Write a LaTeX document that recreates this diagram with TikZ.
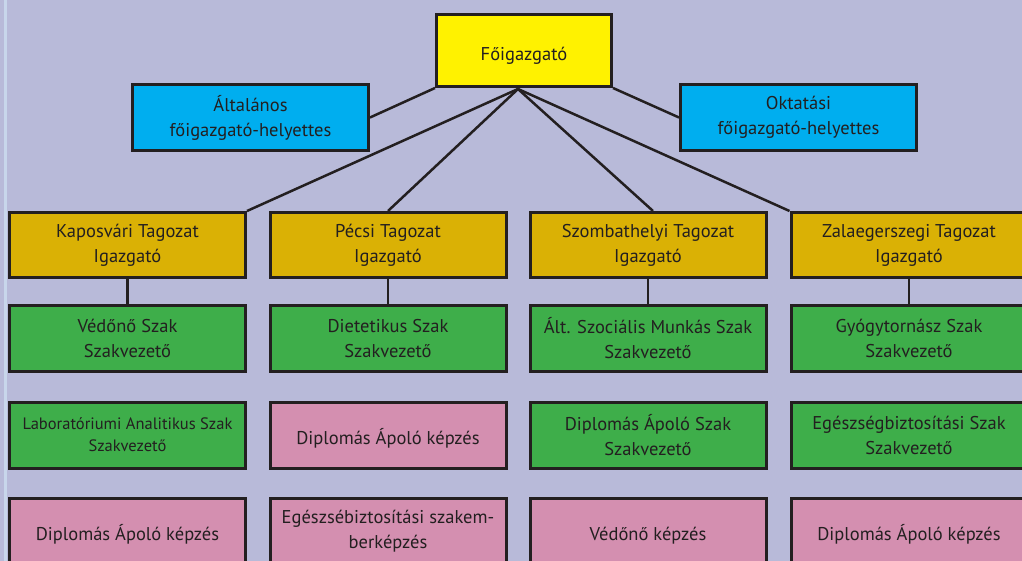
\documentclass[tikz,border=0pt]{standalone}
\usepackage{fontspec}
\setmainfont{PT Sans}
\definecolor{bg}{HTML}{B8BAD9}
\definecolor{yel}{HTML}{FFF200}
\definecolor{blu}{HTML}{00AEEF}
\definecolor{gld}{HTML}{DAB105}
\definecolor{grn}{HTML}{3EAE4A}
\definecolor{pnk}{HTML}{D48FB0}
\definecolor{ink}{HTML}{231F20}
\tikzset{
  box/.style={draw=ink, line width=3pt, align=center, inner sep=0pt,
    text=ink, font=\fontsize{18.5}{25}\selectfont,
    execute at begin node={\rule{0pt}{23pt}}},
  head/.style={box, fill=yel, minimum width=175pt, minimum height=72pt},
  dep/.style={box, fill=blu, minimum width=236pt, minimum height=66pt},
  tag/.style={box, fill=gld, minimum width=236pt, minimum height=65pt},
  szak/.style={box, fill=grn, minimum width=236pt, minimum height=66pt},
  kep/.style={box, fill=pnk, minimum width=236pt, minimum height=66pt},
  link/.style={draw=ink, line width=2.5pt}
}
\begin{document}
\begin{tikzpicture}[x=1pt,y=-1pt]
\path[use as bounding box, fill=bg] (0,0) rectangle (1022,561);
\clip (0,0) rectangle (1022,561);
\fill[white!85!cyan, opacity=0.5] (4,0) rectangle (7,561);

\node[head] (f) at (524,50.5) {Főigazgató};
\coordinate (hub) at (518,89);
\node[dep] (alt) at (250.5,117.5) {Általános\\főigazgató-helyettes};
\node[dep] (okt) at (798.5,117.5) {Oktatási\\főigazgató-helyettes};

\node[tag] (k) at (127.5,245) {Kaposvári Tagozat\\Igazgató};
\node[tag] (p) at (388,245) {Pécsi Tagozat\\Igazgató};
\node[tag] (s) at (648,245) {Szombathelyi Tagozat\\Igazgató};
\node[tag] (z) at (909,245) {Zalaegerszegi Tagozat\\Igazgató};

\node[szak] (k1) at (127.5,338.5) {Védőnő Szak\\Szakvezető};
\node[szak] (p1) at (388,338.5) {Dietetikus Szak\\Szakvezető};
\node[szak] (s1) at (648,338.5) {Ált. Szociális Munkás Szak\\Szakvezető};
\node[szak] (z1) at (909,338.5) {Gyógytornász Szak\\Szakvezető};

\node[szak, font=\fontsize{16.5}{22}\selectfont] (k2) at (127.5,435) {Laboratóriumi Analitikus Szak\\Szakvezető};
\node[kep] (p2) at (388,435) {Diplomás Ápoló képzés};
\node[szak] (s2) at (648,435) {Diplomás Ápoló Szak\\Szakvezető};
\node[szak] (z2) at (909,435) {Egészségbiztosítási Szak\\Szakvezető};

\node[kep] (k3) at (127.5,531) {Diplomás Ápoló képzés};
\node[kep] (p3) at (388,531) {Egészsébiztosítási szakem-\\berképzés};
\node[kep] (s3) at (648,531) {Védőnő képzés};
\node[kep] (z3) at (909,531) {Diplomás Ápoló képzés};

\draw[link] (f.south west) -- (alt.east);
\draw[link] (f.south east) -- (okt.west);
\draw[link] (hub) -- (k.north east);
\draw[link] (hub) -- (p.north);
\draw[link] (hub) -- ([xshift=5pt]s.north);
\draw[link] (hub) -- (z.north west);

\draw[link] (k.south) -- (k1.north);
\draw[link] (p.south) -- (p1.north);
\draw[link] (s.south) -- (s1.north);
\draw[link] (z.south) -- (z1.north);
\end{tikzpicture}
\end{document}
